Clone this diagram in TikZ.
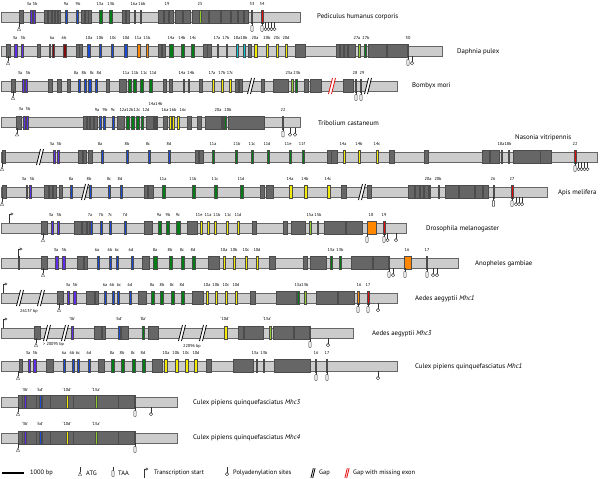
\documentclass[tikz,border=0pt]{standalone}
\usepackage{fontspec}
\setmainfont{PT Sans}
\usetikzlibrary{arrows.meta}

\definecolor{cbar}{RGB}{204,204,204}
\definecolor{cexon}{RGB}{102,102,102}
\definecolor{cviolet}{RGB}{95,45,235}
\definecolor{cblue}{RGB}{25,75,215}
\definecolor{cgreen}{RGB}{0,125,20}
\definecolor{clime}{RGB}{140,205,40}
\definecolor{cyellow}{RGB}{245,235,0}
\definecolor{cpurple}{RGB}{150,20,150}
\definecolor{cdarkred}{RGB}{130,10,10}
\definecolor{corange}{RGB}{255,135,0}
\definecolor{ccyan}{RGB}{0,200,215}
\definecolor{cred}{RGB}{230,10,10}
\definecolor{cbrown}{RGB}{175,95,30}
\definecolor{cpale}{RGB}{250,195,140}

\tikzset{
  sym/.style={draw=black!80, line width=0.4pt},
  atg/.pic={\draw[sym] (0,0) -- (0,5); \draw[sym, fill=white] (0,5) -- (-1.6,8.5) -- (1.6,8.5) -- cycle;},
  taa/.pic={\draw[sym] (0,0) -- (0,3.5); \draw[sym, fill=white, rounded corners=0.6pt] (-1.1,3.5) rectangle (1.1,9.5);},
  polya/.pic={\draw[sym] (0,0) -- (0,5.5); \draw[sym, fill=white] (0,7.2) circle (1.7);},
  tss/.pic={\draw[sym, -{Triangle[open, length=2.6pt, width=2.8pt]}] (0,0) -- (0,-9) -- (4.5,-9);},
  gapmark/.pic={\fill[white] (-3.5,8) -- (0.5,-8) -- (3.5,-8) -- (-0.5,8) -- cycle;
                \draw[line width=0.8pt] (-3.5,8) -- (0.5,-8) (-0.5,8) -- (3.5,-8);}
}

\begin{document}
\begin{tikzpicture}[
    x=1pt, y=-1pt,
    bar/.style={draw=black!60, fill=cbar, line width=0.4pt},
    exon/.style={draw=black!70, fill=cexon, line width=0.25pt},
    lab/.style={font=\fontsize{4.3}{4.5}\selectfont, inner sep=0pt},
    species/.style={font=\fontsize{6.8}{7.5}\selectfont, anchor=west, inner sep=0pt},
    legend/.style={font=\fontsize{6.4}{7}\selectfont, anchor=west, inner sep=0pt}
]
\useasboundingbox (0,0) rectangle (600,479);

% ---- Pediculus humanus corporis ----
\begin{scope}[shift={(0,17)}]
\draw[bar] (1,-5) rectangle (300,5);
\foreach \a/\b in {19/23, 44/47, 48/51, 52/54, 55/57, 58/60, 81/84, 85/88, 88.5/91, 122/125, 126/129,
  158/163, 164/168, 169/173, 175/182, 183/190, 192/199, 201/208, 209/220, 221/230, 231/237, 238/243, 244/248}
  \draw[exon] (\a,-6.5) rectangle (\b,6.5);
\foreach \a/\b/\c in {30/32/cviolet, 33/35/cviolet, 65/67/cblue, 76/78/cblue, 99/102/cgreen, 109/112/cgreen,
  134/135.5/cpurple, 140/141.5/cpurple, 199.5/201/clime, 251.5/252.5/cbrown, 261.5/263/cred}
  \draw[exon, fill=\c] (\a,-6.5) rectangle (\b,6.5);
\foreach \x/\t in {29/3a, 35/3b, 66/9a, 78/9b, 100/13a, 111/13b, 134/16a, 142/16b, 167/19, 200/25, 252/33, 262/34}
  \node[lab] at (\x,-13) {\t};
\pic at (19,5) {atg};
\pic at (252,5) {taa};
\pic at (262,5) {taa};
\foreach \x in {265.5, 268.5, 271.5, 274.5} \pic at (\x,5) {polya};
\node[species] at (317,0) {Pediculus humanus corporis};
\end{scope}

% ---- Daphnia pulex ----
\begin{scope}[shift={(0,51)}]
\draw[bar] (1,-5) rectangle (442,5);
\foreach \a/\b in {6/10, 37/40, 76/79, 79.5/82, 158/161, 162/165, 203/207, 207.5/211, 248/251, 295/305,
  336/339, 340/343, 344/347, 348/355, 368/386, 387/407}
  \draw[exon] (\a,-6.5) rectangle (\b,6.5);
\foreach \a/\b/\c in {14/17/cviolet, 21/23/cviolet, 49/49.8/black, 52/54/cdarkred, 63/66/cdarkred,
  87/90/cblue, 99/101/cblue, 111/113/cblue, 124/127/cblue, 137/140/corange, 146/148/corange,
  169/173/cgreen, 181/184/cgreen, 191/194/cgreen, 217/218/cpurple, 226/227/cpurple, 236/238/ccyan, 243/245/ccyan,
  254/257/cyellow, 266/268/cyellow, 276/278/cyellow, 285/287/cyellow, 358/360/clime, 364/366/cgreen, 407.5/408.5/cred}
  \draw[exon, fill=\c] (\a,-6.5) rectangle (\b,6.5);
\foreach \x/\t in {15/3a, 23/3b, 52/6a, 64/6b, 89/10a, 100/10b, 113/10c, 126/10d, 138/11a, 147/11b,
  171/14a, 182/14b, 193/14c, 217/17a, 226/17b, 237/18a, 244/18b, 255/20a, 267/20b, 277/20c, 286/20d,
  357/27a, 366/27b, 408/30}
  \node[lab] at (\x,-13) {\t};
\pic at (8,5) {atg};
\pic at (408,5) {taa};
\pic at (412,5) {polya};
\node[species] at (457,1) {Daphnia pulex};
\end{scope}

% ---- Bombyx mori ----
\begin{scope}[shift={(0,86)}]
\draw[bar] (1,-5) rectangle (397,5);
\foreach \a/\b in {11/15, 48/52, 57/61, 67/70, 106/109, 119/126, 163/166, 169/172, 199/202, 235/238, 239/242,
  261/264, 273/288, 304/308, 310/321, 343/353}
  \draw[exon] (\a,-6.5) rectangle (\b,6.5);
\foreach \a/\b/\c in {22/24/cviolet, 25/27/cviolet, 78/80/cblue, 84/86/cblue, 88/91/cblue, 95/97/cblue,
  128/131/cgreen, 133/136/cgreen, 140/143/cgreen, 149/152/cgreen, 183/184/cpurple, 188/189/cpurple,
  212/214/cyellow, 221/223/cyellow, 229/231/cyellow, 291/293/clime, 295/297/cgreen, 355.5/356.5/cbrown, 360.5/361.5/cred}
  \draw[exon, fill=\c] (\a,-6.5) rectangle (\b,6.5);
\pic at (251,0) {gapmark};
\pic[cred] at (332,0) {gapmark};
\pic at (368,0) {gapmark};
\foreach \x/\t in {20/3a, 28/3b, 76/8a, 84/8b, 92/8c, 99/8d, 126/11a, 135/11b, 144/11c, 153/11d,
  182/14a, 191/14b, 212/17a, 222/17b, 230/17c, 289/23a, 297/23b, 355/28, 362/29}
  \node[lab] at (\x,-13) {\t};
\pic at (13,5) {atg};
\pic at (356,5) {taa};
\pic at (361,5) {taa};
\node[species] at (412,0) {Bombyx mori};
\end{scope}

% ---- Tribolium castaneum ----
\begin{scope}[shift={(0,122.5)}]
\draw[bar] (1,-5) rectangle (300,5);
\foreach \a/\b in {16/21, 83/86, 87/89.5, 90/93, 94/97, 117/124, 146/153, 163/167, 187/191, 197/201, 205/221, 228/264}
  \draw[exon] (\a,-6.5) rectangle (\b,6.5);
\foreach \a/\b/\c in {23/25/cviolet, 26/28/cviolet, 99/101/cblue, 103/105/cblue, 112/114/cblue,
  126/129/cgreen, 131/134/cgreen, 136/139/cgreen, 141/143.5/cgreen, 154/155/cpurple, 156/157/cpurple,
  169/171/cyellow, 172/174/cyellow, 177/179/cyellow, 222/223.5/clime, 224/226/cgreen, 282/283.5/cred}
  \draw[exon, fill=\c] (\a,-6.5) rectangle (\b,6.5);
\foreach \x/\t in {21/3a, 28/3b, 97/9a, 105/9b, 113/9c, 123/12a, 130/12b, 137/12c, 146/12d,
  165/16a, 173/16b, 183/16c, 218/20a, 228/20b, 283/22}
  \node[lab] at (\x,-13) {\t};
\foreach \x/\t in {152/14a, 159/14b} \node[lab] at (\x,-18.5) {\t};
\pic at (17,5) {atg};
\pic at (283,5) {taa};
\pic at (290,5) {polya};
\pic at (295,5) {polya};
\node[species] at (318,0.5) {Tribolium castaneum};
\end{scope}

% ---- Nasonia vitripennis ----
\begin{scope}[shift={(0,157)}]
\draw[bar] (1,-5) rectangle (597,5);
\foreach \a/\b in {2/5, 78/82, 83/86, 88/92, 195/198, 199/203, 327/331, 331.5/337, 389/394, 424/428,
  482/489, 490/499, 513/540, 540.5/551}
  \draw[exon] (\a,-6.5) rectangle (\b,6.5);
\foreach \a/\b/\c in {53/55/cviolet, 57/59/cviolet, 101/103/cblue, 126/128/cblue, 148/150/cblue, 168/170/cblue,
  212/214/cgreen, 235/237/cgreen, 251/253/cgreen, 267/269/cgreen, 289/291/cgreen, 302/304/cgreen,
  343/345/cyellow, 358/360/cyellow, 376/378/cyellow, 501/502.5/clime, 508/509.5/clime, 574.5/576/cred}
  \draw[exon, fill=\c] (\a,-6.5) rectangle (\b,6.5);
\pic at (40,0) {gapmark};
\foreach \x/\t in {52/3a, 59/3b, 100/8a, 127/8b, 148/8c, 169/8d, 213/11a, 237/11b, 252/11c, 267/11d,
  288/11e, 302/11f, 343/14a, 359/14b, 377/14c, 501/18a, 508/18b, 575/22}
  \node[lab] at (\x,-13) {\t};
\pic at (2,5) {atg};
\pic at (575,5) {taa};
\foreach \x in {578.5, 581.5, 584.5, 587.5} \pic at (\x,5) {polya};
\node[species] at (515,-19) {Nasonia vitripennis};
\end{scope}

% ---- Apis melifera ----
\begin{scope}[shift={(0,192)}]
\draw[bar] (1,-5) rectangle (547,5);
\foreach \a/\b in {2/6, 44/48, 49/52, 53/56, 59/62, 144/147, 148/153, 260/264, 266/273, 341/346, 367/371,
  408/414, 415/419, 420/423, 424/428, 445/458, 459/474, 475/482, 483/488}
  \draw[exon] (\a,-6.5) rectangle (\b,6.5);
\foreach \a/\b/\c in {26/27.5/cviolet, 29/31/cviolet, 70/72/cblue, 89/91/cblue, 108/110/cblue, 120/122/cblue,
  162/165/cgreen, 192/195/cgreen, 214/217/cgreen, 240/243/cgreen, 289/292/cyellow, 304/307/cyellow, 327/330/cyellow,
  429/430.5/clime, 438/439.5/clime, 493/494.5/corange, 511/513/cred}
  \draw[exon, fill=\c] (\a,-6.5) rectangle (\b,6.5);
\pic at (85,0) {gapmark};
\pic at (362,0) {gapmark};
\foreach \x/\t in {24/3a, 32/3b, 71/8a, 89/8b, 109/8c, 120/8d, 163/11a, 193/11b, 215/11c, 241/11d,
  290/14a, 305/14b, 328/14c, 428/20a, 438/20b, 493/26, 512/27}
  \node[lab] at (\x,-13) {\t};
\pic at (2,5) {atg};
\pic at (493.5,5) {taa};
\pic at (512,5) {taa};
\foreach \x in {516, 519, 522} \pic at (\x,5) {polya};
\node[species] at (558,0.5) {Apis melifera};
\end{scope}

% ---- Drosophila melanogaster ----
\begin{scope}[shift={(0,228)}]
\draw[bar] (1,-5) rectangle (406,5);
\foreach \a/\b in {41/47, 74/81, 82/86, 87/89, 144/152, 187/197, 252/256, 283/287, 291/305, 324/345, 346/362}
  \draw[exon] (\a,-6.5) rectangle (\b,6.5);
\foreach \a/\b/\c in {51/53/cviolet, 57/59/cviolet, 90/92/cblue, 100/102/cblue, 109/111/cblue, 124/126/cblue,
  158/161/cgreen, 166/169/cgreen, 176/180/cgreen, 200/202/cyellow, 207/209/cyellow, 214/216/cyellow,
  226/228/cyellow, 237/239/cyellow, 309/311/clime, 317/318.5/cgreen, 367/376/corange, 383/385/cred}
  \draw[exon, fill=\c] (\a,-6.5) rectangle (\b,6.5);
\foreach \x/\t in {51/3a, 59/3b, 90/7a, 101/7b, 110/7c, 125/7d, 159/9a, 168/9b, 178/9c, 199/11e, 208/11a,
  217/11b, 228/11c, 238/11d, 310/15a, 318/15b, 371/18, 384/19}
  \node[lab] at (\x,-13) {\t};
\pic at (9,-5) {tss};
\pic at (43,5) {atg};
\pic at (367,5) {taa};
\pic at (384,5) {taa};
\pic at (387.5,5) {polya};
\pic at (396,5) {polya};
\node[species] at (426,0.5) {Drosophila melanogaster};
\end{scope}

% ---- Anopheles gambiae ----
\begin{scope}[shift={(0,263)}]
\draw[bar] (1,-5) rectangle (458,5);
\foreach \a/\b in {18/19.5, 41/47, 77/83, 84/87, 142/149, 208/219, 269/275, 303/307, 310/326, 351/372, 373/389}
  \draw[exon] (\a,-6.5) rectangle (\b,6.5);
\foreach \a/\b/\c in {55/58/cviolet, 62/65/cviolet, 97/99/cblue, 109/111/cblue, 116/118/cblue, 131/133/cblue,
  153/157/cgreen, 169/172/cgreen, 181/184/cgreen, 192/195/cgreen, 223/225/cyellow, 233/235/cyellow,
  245/247/cyellow, 256/258/cyellow, 330/332/cgreen, 339/341/cgreen, 388.5/389.5/cdarkred, 404/411/corange, 426/427.5/cred}
  \draw[exon, fill=\c] (\a,-6.5) rectangle (\b,6.5);
\foreach \x/\t in {56/3a, 64/3b, 97/6a, 110/6b, 117/6c, 131/6d, 155/8a, 170/8b, 182/8c, 193/8d,
  224/10a, 234/10b, 246/10c, 257/10d, 331/13a, 340/13b, 407/16, 427/17}
  \node[lab] at (\x,-13) {\t};
\pic at (18,-5) {tss};
\pic at (43,5) {atg};
\pic at (389,5) {taa};
\pic at (393,5) {polya};
\pic at (405,5) {taa};
\pic at (427,5) {taa};
\pic at (433,5) {polya};
\pic at (437,5) {polya};
\node[species] at (475,0.5) {Anopheles gambiae};
\end{scope}

% ---- Aedes aegyptii Mhc1 ----
\begin{scope}[shift={(0,298)}]
\draw[bar] (1,-5) rectangle (397,5);
\foreach \a/\b in {57/63, 86/94, 95/98, 138/146, 192/203, 250/255, 276/296, 316/337, 338/354}
  \draw[exon] (\a,-6.5) rectangle (\b,6.5);
\foreach \a/\b/\c in {67/69.5/cviolet, 73/76/cviolet, 104/106/cblue, 112/114/cblue, 117/119/cblue, 129/131/cblue,
  151/154/cgreen, 160/163/cgreen, 171/174/cgreen, 181/184/cgreen, 206/208/cyellow, 215/217/cyellow,
  225/227/cyellow, 235/237/cyellow, 297/299/cgreen, 304/306/clime, 357/359/corange, 367/369/cred}
  \draw[exon, fill=\c] (\a,-6.5) rectangle (\b,6.5);
\pic at (20,0) {gapmark};
\pic at (41,0) {gapmark};
\node[lab] at (29,13) {26137 bp};
\foreach \x/\t in {68/3a, 75/3b, 105/6a, 112/6b, 119/6c, 130/6d, 152/8a, 162/8b, 172/8c, 182/8d,
  207/10a, 216/10b, 226/10c, 236/10d, 298/13a, 305/13b, 359/16, 368/17}
  \node[lab] at (\x,-13) {\t};
\pic at (3,-5) {tss};
\pic at (59,5) {atg};
\pic at (358,5) {taa};
\pic at (368,5) {taa};
\pic at (378,5) {polya};
\node[species] at (415,0.5) {Aedes aegyptii \textit{Mhc1}};
\end{scope}

% ---- Aedes aegyptii Mhc3 ----
\begin{scope}[shift={(0,333)}]
\draw[bar] (1,-5) rectangle (353,5);
\foreach \a/\b in {34/40, 94/101, 102/105, 121/128, 148/158, 238/243, 244/263, 273/293, 294/310}
  \draw[exon] (\a,-6.5) rectangle (\b,6.5);
\foreach \a/\b/\c in {71/73/cviolet, 118/120/cblue, 142/144.5/cgreen, 224/227/cyellow, 269/271/clime, 309.5/310.5/cdarkred}
  \draw[exon, fill=\c] (\a,-6.5) rectangle (\b,6.5);
\foreach \x in {47, 65, 182, 203} \pic at (\x,0) {gapmark};
\node[lab, anchor=west] at (43,11.5) {> 20095 bp};
\node[lab] at (192,13) {22096 bp};
\foreach \x/\t in {72/`3b', 119/`6d', 143/`8a', 225/`10d', 267/`13a'}
  \node[lab] at (\x,-14) {\t};
\pic at (3,-5) {tss};
\pic at (36,5) {atg};
\pic at (310,5) {taa};
\pic at (328,5) {polya};
\node[species] at (372,0.5) {Aedes aegyptii \textit{Mhc3}};
\end{scope}

% ---- Culex pipiens quinquefasciatus Mhc1 ----
\begin{scope}[shift={(0,366)}]
\draw[bar] (1,-5) rectangle (397,5);
\foreach \a/\b in {19/22, 46/53, 98/104, 152/162, 206/211, 233/253, 274/310}
  \draw[exon] (\a,-6.5) rectangle (\b,6.5);
\foreach \a/\b/\c in {28/30/cviolet, 33/36/cviolet, 63/65/cblue, 72/74/cblue, 77/79/cblue, 88/90/cblue,
  111/114/cgreen, 121/124/cgreen, 132/135/cgreen, 142/145/cgreen, 164/167/cyellow, 175/178/cyellow,
  185/188/cyellow, 194/197/cyellow, 256/257.5/clime, 263/264.5/cgreen, 315/316.5/cpale, 326/327.5/cdarkred}
  \draw[exon, fill=\c] (\a,-6.5) rectangle (\b,6.5);
\foreach \x/\t in {28/3a, 35/3b, 64/6a, 72/6b, 78/6c, 89/6d, 112/8a, 122/8b, 133/8c, 143/8d,
  166/10a, 176/10b, 186/10c, 196/10d, 255/13a, 264/13b, 316/16, 327/17}
  \node[lab] at (\x,-13) {\t};
\pic at (18,5) {atg};
\pic at (316,5) {taa};
\pic at (327,5) {taa};
\pic at (378,5) {polya};
\node[species] at (415,0.5) {Culex pipiens quinquefasciatus \textit{Mhc1}};
\end{scope}

% ---- Culex pipiens quinquefasciatus Mhc3 ----
\begin{scope}[shift={(0,402)}]
\draw[bar] (1,-5) rectangle (177,5);
\foreach \a/\b in {18/22, 22/36, 36/42, 42/50, 50/73, 73/97, 97/118, 118/135}
  \draw[exon] (\a,-6.5) rectangle (\b,6.5);
\foreach \a/\b/\c in {24/26/cviolet, 39/41/cblue, 66/68/cyellow, 95/97/clime, 134.5/135.5/cdarkred}
  \draw[exon, fill=\c] (\a,-6.5) rectangle (\b,6.5);
\foreach \x/\t in {25/`3b', 40/`6d', 67/`10d', 96/`13a'}
  \node[lab] at (\x,-12) {\t};
\pic at (18,5) {atg};
\pic at (135,5) {taa};
\pic at (151,5) {polya};
\node[species] at (193,1) {Culex pipiens quinquefasciatus \textit{Mhc3}};
\end{scope}

% ---- Culex pipiens quinquefasciatus Mhc4 ----
\begin{scope}[shift={(0,438)}]
\draw[bar] (1,-5) rectangle (177,5);
\foreach \a/\b in {18/22, 22/36, 36/42, 42/50, 50/73, 73/97, 97/118, 118/135}
  \draw[exon] (\a,-6.5) rectangle (\b,6.5);
\foreach \a/\b/\c in {24/26/cviolet, 39/41/cblue, 66/68/cyellow, 95/97/clime, 134.5/135.5/cdarkred}
  \draw[exon, fill=\c] (\a,-6.5) rectangle (\b,6.5);
\foreach \x/\t in {25/`3b', 40/`6d', 67/`10d', 96/`13a'}
  \node[lab] at (\x,-14) {\t};
\pic at (18,5) {atg};
\pic at (135,5) {taa};
\node[species] at (193,0) {Culex pipiens quinquefasciatus \textit{Mhc4}};
\end{scope}

% ---- legend ----
\draw[line width=2.2pt] (2,473) -- (24,473);
\node[legend] at (30,473) {1000 bp};
\pic at (80,467) {atg};
\node[legend] at (86,473) {ATG};
\pic at (113,467) {taa};
\node[legend] at (118,473) {TAA};
\pic at (144,478) {tss};
\node[legend] at (154,473) {Transcription start};
\pic at (227,467) {polya};
\node[legend] at (233,473) {Polyadenylation sites};
\pic[scale=0.6] at (313,473) {gapmark};
\node[legend] at (319,473) {Gap};
\pic[scale=0.6, cred] at (347,473) {gapmark};
\node[legend] at (353,473) {Gap with missing exon};

\end{tikzpicture}
\end{document}
